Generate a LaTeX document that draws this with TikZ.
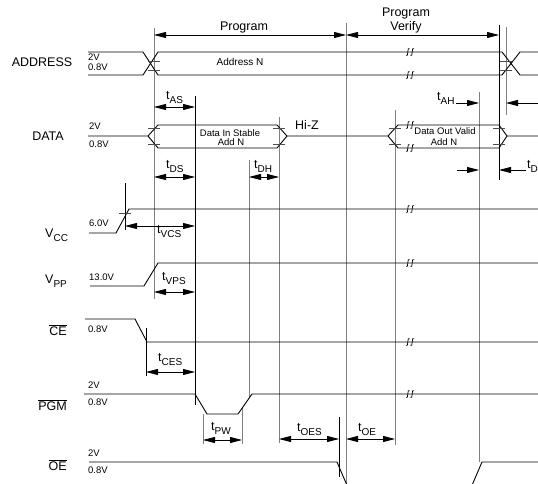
\documentclass[tikz,border=0pt]{standalone}
\usepackage{fontspec}
\setmainfont{Liberation Sans}
\usetikzlibrary{arrows.meta}
\newcommand{\tsub}[1]{t\raisebox{-4pt}{\fontsize{10}{12}\selectfont #1}}
\newcommand{\vsub}[1]{V\raisebox{-4pt}{\fontsize{10}{12}\selectfont #1}}

\begin{document}
\begin{tikzpicture}[
  x=1pt, y=-1pt,
  every node/.style={inner sep=0pt},
  wave/.style={draw=black, line width=0.9pt},
  grd/.style={draw=black!50, line width=0.9pt},
  blk/.style={draw=black, line width=0.9pt},
  tck/.style={draw=black!70, line width=0.7pt},
  dim/.style={{Triangle[length=12pt,width=6pt]}-{Triangle[length=12pt,width=6pt]}, line width=0.8pt},
  one/.style={-{Triangle[length=12pt,width=6pt]}, line width=0.8pt},
  sig/.style={font=\fontsize{12.5}{14}\selectfont, anchor=base},
  tm/.style={font=\fontsize{12.5}{14}\selectfont, anchor=base west},
  lvl/.style={font=\fontsize{9.5}{11}\selectfont, anchor=base west},
  txt/.style={font=\fontsize{9.5}{11}\selectfont, anchor=base},
  brk/.pic={
    \foreach \d in {-2.2,2.2}
      \draw[line width=0.7pt, shift={(\d,0)}] (1.8,-3.2) .. controls (0.6,-5.2) and (0,-2.5) .. (0,0)
        .. controls (0,2.5) and (-0.6,5.2) .. (-1.8,3.2);
  },
]
  \useasboundingbox (0,0) rectangle (538,484);
  \clip (0,0) rectangle (538,484);

  \draw[grd] (154,28) -- (154,299);
  \draw[blk] (195,96) -- (195,405);
  \draw[grd] (249,160) -- (249,397);
  \draw[grd] (279,117) -- (279,443);
  \draw[grd] (346,23) -- (346,484);
  \draw[grd] (395,110) -- (395,445);
  \draw[grd] (479,92) -- (479,462);
  \draw[blk] (499,25) -- (499,180);
  \draw[grd] (506,27) -- (506,115);
  \draw[blk] (125,183) -- (125,230);
  \draw[blk] (146,328) -- (146,376);
  \draw[grd] (203,414) -- (203,444);
  \draw[grd] (242,408) -- (242,444);
  \draw[blk] (339,417) -- (339,477);

  \draw[wave] (88,52) -- (143,52) -- (158,75) -- (502,75) -- (520,52) -- (538,52);
  \draw[wave] (88,75) -- (143,75) -- (158,52) -- (502,52) -- (520,75) -- (538,75);
  \draw[wave] (88,136) -- (148,136) -- (158,125) -- (277,125) -- (287,136) -- (388,136)
    -- (398,125) -- (499,125) -- (507,136) -- (538,136);
  \draw[wave] (148,136) -- (158,148) -- (277,148) -- (287,136);
  \draw[wave] (388,136) -- (398,148) -- (499,148) -- (507,136);
  \draw[wave] (89,233) -- (116,233) -- (129,209) -- (538,209);
  \draw[wave] (90,286) -- (144,286) -- (158,263) -- (538,263);
  \draw[wave] (85,319) -- (135,319) -- (147,342) -- (538,342);
  \draw[wave] (84,394) -- (195,394) -- (207,414) -- (238,414) -- (252,394) -- (538,394);
  \draw[wave] (89,462) -- (337,462) -- (349,490) -- (470,490) -- (482,462) -- (538,462);

  \foreach \x in {154,506} {
    \draw[tck] (\x-6,61.5) -- (\x+6,61.5);
    \draw[tck] (\x-6,70.5) -- (\x+6,70.5);
  }
  \foreach \x in {154,279,395,499} {
    \draw[tck] (\x-6,128) -- (\x+6,128);
    \draw[tck] (\x-6,144) -- (\x+6,144);
  }
  \draw[tck] (119,213) -- (131,213);

  \foreach \y in {52,75,125,148,209,263,342,394,490}
    \pic at (410,\y) {brk};

  \draw[dim] (154,35) -- (346,35);
  \draw[dim] (346,35) -- (499,35);
  \draw[dim] (154,107) -- (195,107);
  \draw[dim] (154,177) -- (195,177);
  \draw[dim] (249,177) -- (279,177);
  \draw[dim] (125,226) -- (195,226);
  \draw[dim] (154,292) -- (195,292);
  \draw[dim] (146,372) -- (195,372);
  \draw[dim] (203,440) -- (242,440);
  \draw[dim] (279,439) -- (339,439);
  \draw[dim] (346,439) -- (395,439);
  \draw[one] (456,103) -- (479,103);
  \draw[one] (538,103) -- (506,103);
  \draw[one] (457,170) -- (479,170);
  \draw[one] (526,170) -- (499,170);

  \node[sig] (lprog) at (244,31) {Program};
  \node[sig] (lver1) at (406,17) {Program};
  \node[sig] (lver2) at (406,31) {Verify};

  \node[sig] (nadr) at (42,67) {ADDRESS};
  \node[lvl] (a2v) at (88,61) {2V};
  \node[lvl] (a08) at (88,71) {0.8V};
  \node[txt] (adrn) at (240,66) {\fontsize{10}{12}\selectfont Address N};

  \node[sig] (ndat) at (48,140) {DATA};
  \node[lvl] (d2v) at (89,130) {2V};
  \node[lvl] (d08) at (89,147) {0.8V};
  \node[txt] (din1) at (230,136) {Data In Stable};
  \node[txt] (din2) at (231,146) {Add N};
  \node[sig] (hiz) at (307,130) {Hi-Z};
  \node[txt] (dout1) at (445,135) {Data Out Valid};
  \node[txt] (dout2) at (444,146) {Add N};

  \node[tm] (nvcc) at (45,237) {\vsub{CC}};
  \node[lvl] (c60) at (89,226) {6.0V};
  \node[tm] (nvpp) at (45,283) {\vsub{PP}};
  \node[lvl] (p13) at (89,280) {13.0V};
  \node[sig, anchor=base east] (nce) at (67,335) {$\overline{\mbox{CE}}$};
  \node[lvl] (e08) at (88,332) {0.8V};
  \node[sig, anchor=base east] (npgm) at (67,410) {$\overline{\mbox{PGM}}$};
  \node[lvl] (g2v) at (88,388) {2V};
  \node[lvl] (g08) at (88,405) {0.8V};
  \node[sig, anchor=base east] (noe) at (67,470) {$\overline{\mbox{OE}}$};
  \node[lvl] (o2v) at (88,456) {2V};
  \node[lvl] (o08) at (88,473) {0.8V};

  \node[tm] (tas) at (166,100) {\tsub{AS}};
  \node[tm] (tds) at (166,168) {\tsub{DS}};
  \node[tm] (tdh) at (254,168) {\tsub{DH}};
  \node[tm] (tvcs) at (157,233) {\tsub{VCS}};
  \node[tm] (tvps) at (162,280) {\tsub{VPS}};
  \node[tm] (tces) at (158,361) {\tsub{CES}};
  \node[tm] (tpw) at (211,430) {\tsub{PW}};
  \node[tm] (toes) at (297,431) {\tsub{OES}};
  \node[tm] (toe) at (358,431) {\tsub{OE}};
  \node[tm] (tah) at (437,101) {\tsub{AH}};
  \node[tm] (tdf) at (527,168) {\tsub{D}};
\end{tikzpicture}
\end{document}
